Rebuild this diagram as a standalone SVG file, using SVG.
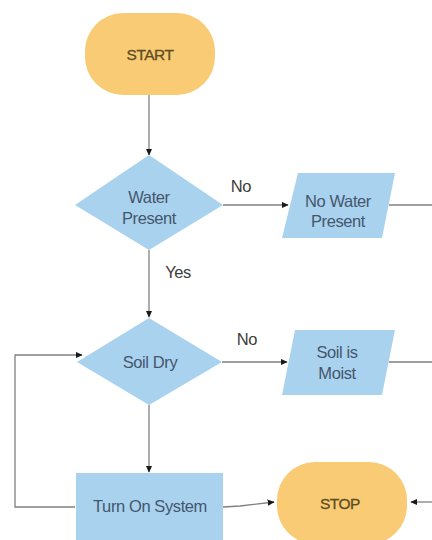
<svg xmlns="http://www.w3.org/2000/svg" width="432" height="540" viewBox="0 0 432 540">
<style>
.term{fill:#F8CB74;}
.proc{fill:#A9D2EE;}
.t{font-family:"Liberation Sans",Arial,sans-serif;font-size:16.5px;fill:#45566d;text-anchor:middle;letter-spacing:-0.4px;}
.tt{font-family:"Liberation Sans",Arial,sans-serif;font-size:15.5px;fill:#5e4d22;text-anchor:middle;letter-spacing:-0.5px;stroke:#5e4d22;stroke-width:0.3px;}
.lbl{font-family:"Liberation Sans",Arial,sans-serif;font-size:16.5px;fill:#3c3c3c;text-anchor:middle;letter-spacing:-0.4px;}
.c{fill:none;stroke:#808080;stroke-width:1.3;}
.a{marker-end:url(#arr);}
</style>
<defs>
<marker id="arr" viewBox="0 0 10 10" refX="9" refY="5" markerWidth="7" markerHeight="7" markerUnits="userSpaceOnUse" orient="auto">
<path d="M0,0.5 L10,5 L0,9.5 Z" fill="#1a1a1a"/>
</marker>
</defs>
<rect width="432" height="540" fill="#ffffff"/>
<g id="connectors">
<path class="c a" d="M149,95 L149,155"/>
<path class="c a" d="M223,205 L288,205"/>
<path class="c" d="M389,205 L432,205"/>
<path class="c a" d="M149,250 L149,317"/>
<path class="c a" d="M222,362 L287,362"/>
<path class="c" d="M389,362 L432,362"/>
<path class="c a" d="M149,405 L149,472"/>
<path class="c a" d="M223,507 L240,506 L274,502"/>
<path class="c a" d="M75,507 L15,507 L15,355 L82,355"/>
<path class="c a" d="M432,502 L411,502"/>
</g>
<g id="labels">
<text class="lbl" x="241" y="192">No</text>
<text class="lbl" x="178" y="278">Yes</text>
<text class="lbl" x="247" y="345">No</text>
</g>
<g id="start">
<rect class="term" x="85" y="13" width="130" height="82" rx="38" ry="38"/>
<text class="tt" x="150" y="60">START</text>
</g>
<g id="water-present">
<polygon class="proc" points="149,155 223,205 149,250 75,205"/>
<text class="t" x="149" y="203">Water</text>
<text class="t" x="149" y="224">Present</text>
</g>
<g id="no-water-present">
<polygon class="proc" points="298,173 395,173 382,238 282,238"/>
<text class="t" x="338" y="207">No Water</text>
<text class="t" x="338" y="227">Present</text>
</g>
<g id="soil-dry">
<polygon class="proc" points="149,318 222,362 149,405 77,362"/>
<text class="t" x="150" y="368">Soil Dry</text>
</g>
<g id="soil-moist">
<polygon class="proc" points="295,330 395,330 382,395 282,395"/>
<text class="t" x="337" y="358">Soil is</text>
<text class="t" x="337" y="379">Moist</text>
</g>
<g id="turn-on-system">
<rect class="proc" x="76" y="473" width="147" height="70"/>
<text class="t" x="150" y="512">Turn On System</text>
</g>
<g id="stop">
<rect class="term" x="277" y="462" width="130" height="82" rx="38" ry="38"/>
<text class="tt" x="340" y="509">STOP</text>
</g>
</svg>
